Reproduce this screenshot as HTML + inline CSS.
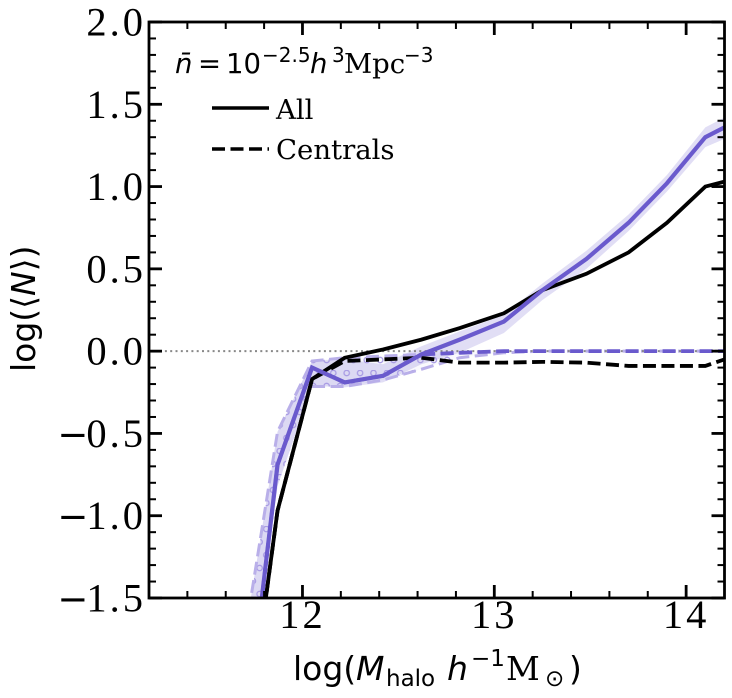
<!DOCTYPE html>
<html>
<head>
<meta charset="utf-8">
<title>log N vs halo mass</title>
<style>
html,body{margin:0;padding:0;background:#fff;width:732px;height:698px;overflow:hidden}
svg{display:block}
.serif{font-family:"DejaVu Serif","Liberation Serif",serif}
.sans{font-family:"DejaVu Sans","Liberation Sans",sans-serif}
.tick{font-family:"Liberation Serif",serif;font-size:40.5px;letter-spacing:3px;fill:#000}
.tick-minus{font-family:"DejaVu Sans",sans-serif;font-size:37px;letter-spacing:-2px}
.leg{font-size:27.5px;fill:#000}
</style>
</head>
<body>
<svg id="chart" xmlns="http://www.w3.org/2000/svg" width="732" height="698" viewBox="0 0 732 698">
<defs>
<clipPath id="plot-clip"><rect x="149" y="22" width="575.5" height="576"/></clipPath>
<pattern id="circle-hatch" patternUnits="userSpaceOnUse" width="13.4" height="26" x="8.3" y="6">
<circle cx="3.4" cy="3" r="2.7" fill="none" stroke="#a99ce4" stroke-width="1.3"/>
<circle cx="10.1" cy="16" r="2.7" fill="none" stroke="#a99ce4" stroke-width="1.3"/>
</pattern>
</defs>
<g id="bands" clip-path="url(#plot-clip)"></g>
<g id="lines" clip-path="url(#plot-clip)"></g>
<g id="axes"></g>
<g fill="#000" font-size="27.5">
<text class="sans" x="175" y="73" font-style="italic">n̄</text>
<text class="sans" x="198" y="73">=</text>
<text class="sans" x="226" y="73">10</text>
<text class="sans" x="262" y="62" font-size="20">−2.5</text>
<text class="sans" x="310" y="73" font-style="italic">h</text>
<text class="sans" x="332" y="62" font-size="20">3</text>
<text class="serif" x="344" y="73">Mpc</text>
<text class="sans" x="404" y="62" font-size="20">−3</text>
</g>
<g>
<line x1="212" x2="269" y1="108" y2="108" stroke="#000" stroke-width="3.6"/>
<text class="serif leg" x="276" y="119">All</text>
<line x1="212" x2="269" y1="149" y2="149" stroke="#000" stroke-width="3.6" stroke-dasharray="13 5.5"/>
<text class="serif leg" x="276" y="159">Centrals</text>
</g>
<g fill="#000" font-size="33">
<text class="sans" x="293" y="680">log(</text>
<text class="sans" x="356" y="680" font-style="italic">M</text>
<text class="sans" x="386" y="686" font-size="23">halo</text>
<text class="sans" x="447" y="680" font-style="italic">h</text>
<text class="sans" x="471" y="666" font-size="23">−1</text>
<text class="serif" x="506" y="680">M</text>
<text class="sans" x="545" y="686" font-size="23">⊙</text>
<text class="sans" x="569" y="680">)</text>
</g>
<text class="sans" transform="translate(35,372) rotate(-90)" font-size="33" fill="#000">log(⟨<tspan font-style="italic">N</tspan>⟩)</text>
</svg>
<script>
const massBlack = [11.80, 11.87, 12.05, 12.22, 12.42, 12.62, 12.82, 13.05, 13.25, 13.48, 13.7, 13.9, 14.1, 14.2];
const massPurple = [11.78, 11.87, 12.05, 12.22, 12.42, 12.62, 12.82, 13.05, 13.25, 13.48, 13.7, 13.9, 14.1, 14.2];
const massBandUpper = [11.72, 11.87, 12.05, 12.22, 12.42, 12.62, 12.82, 13.05, 13.25, 13.48, 13.7, 13.9, 14.1, 14.2];
const massBandLower = [11.785, 11.87, 12.05, 12.22, 12.42, 12.62, 12.82, 13.05, 13.25, 13.48, 13.7, 13.9, 14.1, 14.2];
const blackAll = [-1.58, -0.97, -0.17, -0.04, 0.01, 0.07, 0.14, 0.23, 0.37, 0.47, 0.60, 0.78, 1.00, 1.03];
const blackCentrals = [-1.58, -0.97, -0.17, -0.06, -0.05, -0.04, -0.07, -0.07, -0.065, -0.07, -0.09, -0.09, -0.09, -0.05];
const purpleAll = [-1.58, -0.69, -0.10, -0.19, -0.15, -0.02, 0.07, 0.18, 0.37, 0.56, 0.78, 1.02, 1.30, 1.36];
const purpleCentrals = [-1.58, -0.69, -0.10, -0.19, -0.15, -0.02, -0.01, 0, 0, 0, 0, 0, 0, 0];
const bandAllUpper = [-1.58, -0.49, -0.06, -0.05, -0.08, 0.03, 0.12, 0.22, 0.41, 0.61, 0.83, 1.07, 1.36, 1.42];
const bandAllLower = [-1.58, -0.82, -0.21, -0.22, -0.19, -0.08, -0.01, 0.11, 0.31, 0.50, 0.73, 0.97, 1.24, 1.29];
const bandCentralUpper = [-1.58, -0.49, -0.06, -0.04, -0.03, -0.02, -0.01, 0, 0, 0, 0, 0, 0, 0];
const bandCentralLower = [-1.58, -0.82, -0.215, -0.215, -0.175, -0.11, -0.04, -0.01, 0, 0, 0, 0, 0, 0];
const yMajorTicks = [-1.5, -1.0, -0.5, 0.0, 0.5, 1.0, 1.5, 2.0];
const yMajorLabels = ['−1.5', '−1.0', '−0.5', '0.0', '0.5', '1.0', '1.5', '2.0'];
const xMajorTicks = [12, 13, 14];
const xMajorLabels = ['12', '13', '14'];
const xMin = 11.2, xMax = 14.2, yMin = -1.5, yMax = 2.0;
const plotLeft = 149, plotRight = 724.5, plotTop = 22, plotBottom = 598;

const NS = 'http://www.w3.org/2000/svg';
function xScale(v) { return plotLeft + (v - xMin) / (xMax - xMin) * (plotRight - plotLeft); }
function yScale(v) { return plotBottom - (v - yMin) / (yMax - yMin) * (plotBottom - plotTop); }
function make(tag, attrs, parent) {
  const el = document.createElementNS(NS, tag);
  for (const k in attrs) el.setAttribute(k, attrs[k]);
  parent.appendChild(el);
  return el;
}
function linePoints(xs, ys) { return xs.map((x, i) => xScale(x).toFixed(2) + ',' + yScale(ys[i]).toFixed(2)).join(' '); }
function bandPoints(xu, up, xl, lo) {
  return linePoints(xu, up) + ' ' + linePoints(xl, lo).split(' ').reverse().join(' ');
}
const bands = document.getElementById('bands');
const lines = document.getElementById('lines');
const axes = document.getElementById('axes');

const zero = make('line', { x1: plotLeft, x2: plotRight, y1: yScale(0), y2: yScale(0), stroke: '#888', 'stroke-width': 2, 'stroke-dasharray': '2 3.3' }, lines);



const bandA = make('polygon', { points: bandPoints(massBandUpper, bandAllUpper, massBandLower, bandAllLower), fill: '#6a5acd', 'fill-opacity': 0.2 }, bands);



const bandC = make('polygon', { points: bandPoints(massBandUpper, bandCentralUpper, massBandLower, bandCentralLower), fill: '#6a5acd', 'fill-opacity': 0.04 }, bands);



const bandH = make('polygon', { points: bandPoints(massBandUpper, bandCentralUpper, massBandLower, bandCentralLower), fill: 'url(#circle-hatch)' }, bands);



const edgeU = make('polyline', { points: linePoints(massBandUpper, bandCentralUpper), fill: 'none', stroke: '#b9afe9', 'stroke-width': 3, 'stroke-dasharray': '13 5.5' }, bands);



const edgeL = make('polyline', { points: linePoints(massBandLower.slice(2), bandCentralLower.slice(2)), fill: 'none', stroke: '#b9afe9', 'stroke-width': 3, 'stroke-dasharray': '13 5.5' }, bands);



const lineBC = make('polyline', { points: linePoints(massBlack, blackCentrals), fill: 'none', stroke: '#000', 'stroke-width': 3.8, 'stroke-dasharray': '13 5.5' }, lines);



const lineBA = make('polyline', { points: linePoints(massBlack, blackAll), fill: 'none', stroke: '#000', 'stroke-width': 3.8 }, lines);



const linePC = make('polyline', { points: linePoints(massPurple, purpleCentrals), fill: 'none', stroke: '#6a5acd', 'stroke-width': 3.8, 'stroke-dasharray': '13 5.5' }, lines);



const linePA = make('polyline', { points: linePoints(massPurple, purpleAll), fill: 'none', stroke: '#6a5acd', 'stroke-width': 4.2 }, lines);



const frame = make('rect', { x: plotLeft, y: plotTop, width: plotRight - plotLeft, height: plotBottom - plotTop, fill: 'none', stroke: '#000', 'stroke-width': 2.8 }, axes);



function tickLine(x1, y1, x2, y2, w) {
  const t = make('line', { x1: x1, y1: y1, x2: x2, y2: y2, stroke: '#000', 'stroke-width': w }, axes);
  
  
}
for (let i = 0; i <= 35; i++) {
  const v = yMin + i * 0.1;
  const major = i % 5 === 0;
  const len = major ? 13 : 7;
  const w = major ? 2.8 : 2;
  tickLine(plotLeft, yScale(v), plotLeft + len, yScale(v), w);
  tickLine(plotRight, yScale(v), plotRight - len, yScale(v), w);
}
for (let i = 0; i <= 15; i++) {
  const v = xMin + i * 0.2;
  const major = Math.abs(v - Math.round(v)) < 1e-6;
  const len = major ? 13 : 7;
  const w = major ? 2.8 : 2;
  tickLine(xScale(v), plotBottom, xScale(v), plotBottom - len, w);
  tickLine(xScale(v), plotTop, xScale(v), plotTop + len, w);
}
yMajorTicks.forEach((v, i) => {
  const t = make('text', { x: 146, y: yScale(v) + 13.5, 'text-anchor': 'end', class: 'tick' }, axes);
  const label = yMajorLabels[i];
  if (label.charAt(0) === '−') {
    const m = make('tspan', { class: 'tick-minus' }, t);
    m.textContent = '−';
    t.appendChild(document.createTextNode(label.slice(1)));
  } else {
    t.textContent = label;
  }
  
  
});
xMajorTicks.forEach((v, i) => {
  const t = make('text', { x: xScale(v), y: 628, 'text-anchor': 'middle', class: 'tick' }, axes);
  t.textContent = xMajorLabels[i];
  
  
});
</script>
</body>
</html>
